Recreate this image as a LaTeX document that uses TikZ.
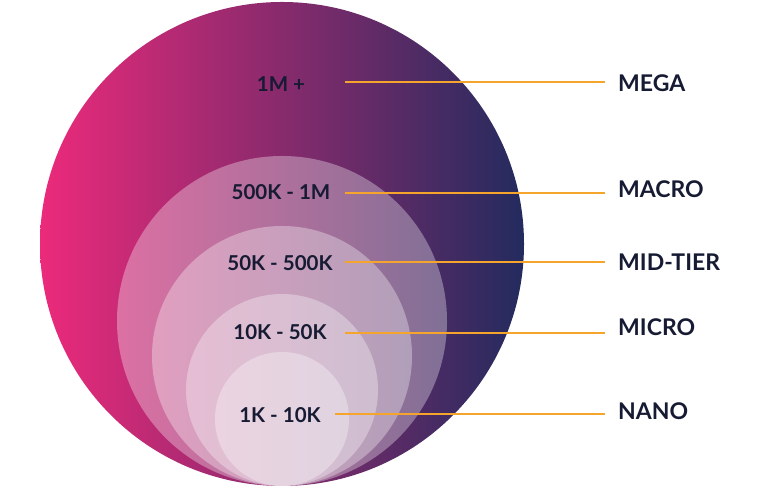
\documentclass[tikz,border=0pt]{standalone}
\usepackage{fontspec}
\setmainfont{Lato}
\usetikzlibrary{positioning}
\definecolor{megapink}{HTML}{EC2A7B}
\definecolor{megapurple}{HTML}{8A2A72}
\definecolor{meganavy}{HTML}{232B5E}
\definecolor{tierink}{HTML}{161B33}
\definecolor{tierline}{HTML}{F5A42C}

\begin{document}
\begin{tikzpicture}[x=1pt, y=1pt,
  followers/.style={font=\bfseries\fontsize{20.5}{20.5}\selectfont, text=tierink, inner sep=0pt},
  tier/.style={font=\bfseries\fontsize{23}{23}\selectfont, text=tierink, anchor=west, inner sep=0pt},
  leader/.style={tierline, line width=1.4pt},
  layer/.style={fill=white, fill opacity=0.33}]
  \useasboundingbox (0,0) rectangle (770,486);

  % cerchio esterno (mega)
  \shade[left color=megapink, middle color=megapurple, right color=meganavy]
    (282,242) circle (242);

  % cerchi interni, tutti tangenti in basso
  \foreach \r in {165,130,96,67}
    \fill[layer] (282,\r) circle (\r);

  % fasce di follower
  \node[followers] (rMega)  at (281,402) {1M +};
  \node[followers] (rMacro) at (281,294) {500K - 1M};
  \node[followers] (rMid)   at (280,223) {50K - 500K};
  \node[followers] (rMicro) at (280,154) {10K - 50K};
  \node[followers] (rNano)  at (280,71)  {1K - 10K};

  % nomi dei livelli
  \node[tier] (tMega)  at (618,403) {MEGA};
  \node[tier] (tMacro) at (618,297) {MACRO};
  \node[tier] (tMid)   at (618,224) {MID-TIER};
  \node[tier] (tMicro) at (618,159) {MICRO};
  \node[tier] (tNano)  at (618,75)  {NANO};

  % inizio delle linee guida
  \coordinate (sMega)  at (345,404);
  \coordinate (sMacro) at (345,293);
  \coordinate (sMid)   at (345,224);
  \coordinate (sMicro) at (345,153);
  \coordinate (sNano)  at (335,72);

  % linee guida
  \foreach \t in {Mega,Macro,Mid,Micro,Nano}
    \draw[leader] (s\t) -- ([xshift=-13pt]t\t.west |- s\t);
\end{tikzpicture}
\end{document}
